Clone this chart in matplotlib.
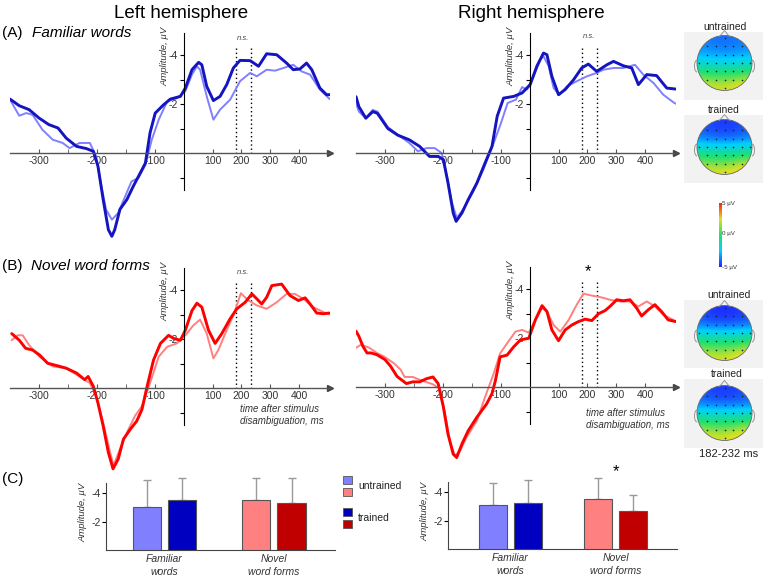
import numpy as np
import matplotlib
matplotlib.use('Agg')
import matplotlib.pyplot as plt
from matplotlib.patches import Rectangle, Circle, Arc
from matplotlib.colors import LinearSegmentedColormap, Normalize
from matplotlib.ticker import FixedLocator
import matplotlib.cm as cm

plt.rcParams['font.family'] = ['Liberation Sans', 'DejaVu Sans']
plt.rcParams['axes.unicode_minus'] = False

W, H = 767, 577

# ---- ERP waveforms (ms, uV) ----
a_left_untr_t = [-350, -334, -322, -311, -294, -276, -259, -247, -230, -212, -201, -192, -184, -174, -163, -151, -140,
                 -128, -116, -105, -86, -57, -23, 6, 29, 46, 57, 80, 103, 126, 161, 195, 230, 253, 287, 316, 345, 379,
                 408, 437, 471, 505]
a_left_untr_v = [-2.18, -1.52, -1.63, -1.56, -0.95, -0.54, -0.41, -0.2, -0.41, -0.41, 0.14, 1.36, 2.31, 2.72, 2.45,
                 1.77, 1.16, 1.02, 0.48, -0.54, -1.36, -2.1, -2.24, -2.52, -3.2, -3.54, -3.4, -2.31, -1.36, -1.77,
                 -2.18, -2.93, -3.27, -3.13, -3.4, -3.36, -3.47, -3.6, -3.33, -3.2, -2.59, -2.2]
a_left_tr_t = [-350, -334, -317, -300, -283, -267, -253, -235, -218, -206, -198, -189, -180, -174, -169, -160, -148,
               -137, -125, -116, -108, -98, -69, -46, -11, 6, 29, 52, 63, 80, 103, 126, 149, 172, 195, 230, 259, 287,
               322, 356, 379, 402, 425, 443, 471, 494, 505]
a_left_tr_v = [-2.2, -1.93, -1.77, -1.43, -1.16, -1.02, -0.61, -0.27, -0.18, -0.07, 0.54, 1.9, 3.13, 3.4, 3.13, 2.3,
               1.9, 1.36, 0.82, 0.41, -0.82, -1.63, -1.97, -2.2, -2.31, -2.65, -3.4, -3.7, -3.6, -2.72, -2.14, -2.31,
               -2.79, -3.47, -3.78, -3.77, -3.54, -4.05, -4.01, -3.67, -3.4, -3.43, -3.67, -3.4, -2.65, -2.38, -2.38]

a_right_untr_t = [-350, -345, -333, -321, -313, -295, -272, -258, -243, -228, -214, -202, -193, -184, -176, -165, -147,
                  -130, -112, -99, -76, -47, -26, -9, 14, 37, 48, 66, 83, 103, 129, 163, 198, 232, 255, 290, 324, 364,
                  393, 428, 462, 497, 505]
a_right_untr_v = [-2.03, -1.69, -1.42, -1.76, -1.69, -1.06, -0.65, -0.41, -0.07, -0.2, -0.2, 0.0, 0.95, 2.04, 2.65,
                  2.31, 1.56, 0.68, -0.41, -1.22, -2.04, -2.18, -2.69, -2.59, -3.13, -3.81, -3.95, -3.54, -2.65,
                  -2.38, -2.72, -2.93, -3.13, -3.27, -3.4, -3.47, -3.47, -3.6, -3.2, -2.86, -2.38, -2.07, -2.01]
a_right_tr_t = [-350, -345, -333, -321, -313, -295, -278, -258, -240, -223, -208, -199, -191, -182, -177, -167, -156,
                -141, -127, -115, -106, -90, -55, -26, 2, 25, 48, 60, 77, 100, 123, 152, 180, 203, 232, 267, 290, 324,
                353, 376, 405, 439, 474, 505]
a_right_tr_v = [-2.3, -1.89, -1.42, -1.69, -1.62, -1.0, -0.73, -0.54, -0.27, 0.14, 0.14, 0.27, 1.22, 2.45, 2.79, 2.45,
                1.9, 1.22, 0.41, -0.27, -1.5, -2.24, -2.31, -2.45, -2.79, -3.54, -4.08, -4.01, -3.13, -2.38, -2.59,
                -2.99, -3.47, -3.63, -3.33, -3.6, -3.74, -3.56, -3.47, -2.79, -3.2, -3.16, -2.65, -2.61]

b_left_untr_t = [-347, -337, -328, -317, -299, -276, -253, -230, -212, -201, -189, -177, -171, -160, -148, -134, -122,
                 -108, -86, -57, -23, 6, 34, 57, 80, 103, 120, 149, 172, 198, 224, 253, 287, 322, 356, 385, 414, 448,
                 483, 505]
b_left_untr_v = [-1.95, -2.15, -2.15, -1.75, -1.28, -0.88, -0.81, -0.47, -0.2, 0.34, 1.41, 2.63, 3.16, 2.49, 1.82,
                 1.14, 0.74, -0.2, -1.28, -1.68, -1.82, -2.15, -2.56, -2.79, -2.22, -1.21, -1.55, -2.36, -2.96, -3.87,
                 -3.57, -3.37, -3.23, -3.5, -3.84, -3.84, -3.64, -3.3, -3.1, -3.0]
b_left_tr_t = [-347, -334, -323, -311, -299, -285, -267, -253, -235, -221, -215, -206, -198, -189, -180, -172, -163,
               -154, -142, -131, -122, -113, -102, -80, -52, -34, -11, 6, 29, 46, 63, 86, 109, 132, 161, 184, 213,
               236, 253, 270, 287, 305, 339, 368, 397, 420, 437, 460, 483, 505]
b_left_tr_v = [-2.22, -1.95, -1.62, -1.55, -1.35, -1.01, -0.9, -0.81, -0.61, -0.34, -0.47, -0.07, 0.61, 1.55, 2.63,
               3.3, 2.9, 2.09, 1.68, 1.35, 0.88, -0.07, -1.14, -1.82, -2.15, -2.02, -1.95, -2.36, -3.16, -3.46, -3.3,
               -2.36, -1.82, -2.22, -2.83, -3.23, -3.5, -3.84, -3.64, -3.43, -3.7, -4.18, -4.24, -3.77, -3.57, -3.68,
               -3.43, -3.06, -3.03, -3.06]

b_right_untr_t = [-350, -341, -327, -314, -302, -285, -273, -266, -252, -237, -217, -205, -196, -188, -179, -170, -159,
                  -141, -127, -112, -101, -78, -49, -26, -3, 20, 43, 60, 83, 106, 135, 163, 186, 215, 244, 278, 313,
                  347, 376, 405, 433, 462, 497, 505]
b_right_untr_v = [-1.6, -1.73, -1.6, -1.39, -1.25, -0.98, -0.71, -0.41, -0.41, -0.27, -0.11, 0.07, 1.1, 2.19, 2.81,
                  2.6, 2.05, 1.37, 0.41, -0.55, -1.37, -1.78, -2.26, -2.33, -2.22, -2.74, -3.22, -3.08, -2.53, -2.26,
                  -2.74, -3.36, -3.81, -3.73, -3.67, -3.56, -3.49, -3.49, -3.29, -3.49, -3.29, -2.95, -2.74, -2.67]
b_right_tr_t = [-350, -345, -338, -331, -324, -314, -300, -290, -279, -263, -252, -240, -228, -217, -208, -199, -191,
                -182, -176, -167, -156, -141, -124, -115, -109, -101, -78, -55, -32, -3, 20, 43, 60, 77, 100, 123,
                146, 169, 192, 215, 238, 261, 278, 301, 324, 347, 370, 387, 410, 433, 456, 479, 505]
b_right_tr_v = [-2.28, -2.07, -1.66, -1.39, -1.39, -1.32, -1.12, -0.84, -0.43, -0.14, -0.21, -0.21, -0.34, -0.41,
                -0.14, 0.82, 1.92, 2.74, 2.88, 2.33, 1.78, 1.23, 0.68, 0.27, -0.27, -1.23, -1.3, -1.64, -1.92, -1.99,
                -2.74, -3.32, -3.08, -2.33, -1.89, -2.33, -2.53, -2.67, -2.77, -2.71, -2.99, -3.12, -3.29, -3.56,
                -3.52, -3.56, -3.22, -2.9, -3.15, -3.36, -3.08, -2.74, -2.67]

erp_ticks = [-300, -200, -100, 100, 200, 300, 400]
erp_tick_labels = ['-300', '-200', '-100', '100', '200', '300', '400']
amp_ticks = [-4, -2]
window = [182, 232]

# ---- mean amplitudes in window ----
categories = ['Familiar\nwords', 'Novel\nword forms']
left_untr = [-3.05, -3.55]
left_tr = [-3.5, -3.3]
left_untr_err = [1.9, 1.5]
left_tr_err = [1.6, 1.75]
right_untr = [-3.1, -3.5]
right_tr = [-3.25, -2.65]
right_untr_err = [1.57, 1.5]
right_tr_err = [1.6, 1.15]

# ---- topographies (uV, electrode rows front to back) ----
topo_a_untr = [[-3.6, -3.8, -3.9, -3.8, -3.6],
               [-3.4, -3.6, -3.7, -3.6, -3.4],
               [-2.9, -3.1, -3.1, -3.1, -2.9],
               [-1.8, -2.0, -2.0, -2.0, -1.7],
               [-0.3, -0.5, -0.5, -0.4, -0.2],
               [1.1, 0.8, 0.8, 1.0, 1.5],
               [2.4, 2.2, 2.2, 2.5, 3.2]]
topo_a_tr = [[-4.2, -4.5, -4.6, -4.5, -4.2],
             [-4.1, -4.4, -4.5, -4.4, -4.1],
             [-3.4, -3.7, -3.7, -3.7, -3.4],
             [-1.9, -2.1, -2.1, -2.1, -1.8],
             [-0.3, -0.5, -0.5, -0.4, -0.1],
             [1.1, 0.8, 0.8, 1.1, 1.6],
             [2.5, 2.3, 2.3, 2.7, 3.4]]
topo_b_untr = [[-4.4, -4.7, -4.8, -4.7, -4.4],
               [-4.3, -4.6, -4.7, -4.6, -4.3],
               [-3.6, -3.9, -3.9, -3.9, -3.6],
               [-2.0, -2.2, -2.2, -2.2, -1.9],
               [-0.3, -0.5, -0.5, -0.4, -0.1],
               [1.0, 0.8, 0.8, 1.0, 1.5],
               [2.4, 2.2, 2.2, 2.6, 3.3]]
topo_b_tr = [[-4.2, -4.5, -4.6, -4.5, -4.2],
             [-4.1, -4.4, -4.5, -4.4, -4.1],
             [-3.4, -3.6, -3.6, -3.6, -3.4],
             [-1.8, -2.0, -2.0, -2.0, -1.7],
             [-0.2, -0.4, -0.4, -0.3, 0.0],
             [1.2, 0.9, 0.9, 1.2, 1.7],
             [2.5, 2.3, 2.3, 2.7, 3.4]]

topo_cmap = LinearSegmentedColormap.from_list(
    'topo', ['#2020ff', '#00d0ff', '#20e070', '#e0e020', '#ff2010'])

C_BLUE_L, C_BLUE_D = '#8080ff', '#1414c0'
C_RED_L, C_RED_D = '#ff8080', '#ff0000'
C_BAR = ['#8080ff', '#0000c0', '#ff8080', '#c00000']


def rect(x0, y0, x1, y1):
    return [x0 / W, 1 - y1 / H, (x1 - x0) / W, (y1 - y0) / H]


def fwd(x):
    x = np.asarray(x, float)
    return np.where(x >= -100, x, 2 * x + 100)


def inv(p):
    p = np.asarray(p, float)
    return np.where(p >= -100, p, (p - 100) / 2)


def erp_panel(fig, x0, y0, tu, vu, tt, vt, cu, ct):
    # y0 = pixel row of the zero line
    ax = fig.add_axes(rect(x0, y0 - 133, x0 + 320, y0 + 92))
    ax.set_xscale('function', functions=(fwd, inv))
    ax.set_xlim(-350, 506)
    ax.set_ylim(92 / 24.5, -133 / 24.5)
    ax.patch.set_visible(False)
    for s in ['top', 'right']:
        ax.spines[s].set_visible(False)
    ax.spines['left'].set_position(('data', 0))
    ax.spines['bottom'].set_position(('data', 0))
    ax.spines['left'].set_bounds(-4.9, 1.5)
    ax.spines['left'].set_linewidth(0.8)
    ax.spines['bottom'].set_color('#555555')
    ax.spines['bottom'].set_linewidth(1.0)
    ax.plot([506], [0], marker='>', ms=4, color='#444444', clip_on=False)

    ax.xaxis.set_major_locator(FixedLocator(erp_ticks))
    ax.set_xticklabels(erp_tick_labels)
    ax.xaxis.set_minor_locator(FixedLocator([-250, -150]))
    ax.tick_params(axis='x', which='both', direction='in', length=3, color='#555555',
                   labelsize=7.5, labelcolor='#333333', pad=2)
    ax.set_yticks(amp_ticks)
    ax.set_yticklabels([str(v) for v in amp_ticks])
    ax.yaxis.set_minor_locator(FixedLocator([-3, -1, 1]))
    ax.tick_params(axis='y', which='both', direction='out', length=3, width=0.8,
                   labelsize=7.5, labelcolor='#333333', pad=1)

    ax.vlines(window, -4.3, 0, colors='k', linestyles=(0, (1, 2)), lw=1)
    ax.plot(tu, vu, color=cu, lw=1.4, solid_capstyle='round', solid_joinstyle='round')
    ax.plot(tt, vt, color=ct, lw=2.1, solid_capstyle='round', solid_joinstyle='round')
    return ax


def bar_panel(fig, x0, x1, y0, xlim, ppu, untr, tr, untr_err, tr_err):
    ax = fig.add_axes(rect(x0, y0 - 76, x1, y0))
    ax.set_xlim(*xlim)
    ax.set_ylim(0, -76 / 14.2)
    ax.patch.set_visible(False)
    for s in ['top', 'right']:
        ax.spines[s].set_visible(False)
    ax.spines['left'].set_bounds(0, -4.75)
    ax.spines['left'].set_color('#444444')
    ax.spines['bottom'].set_color('#444444')
    pos = np.arange(len(categories))
    off = 17.5 / ppu
    wid = 28 / ppu
    ax.bar(pos - off, untr, wid, color=[C_BAR[0], C_BAR[2]], edgecolor='#555555', lw=0.8, zorder=3)
    ax.bar(pos + off, tr, wid, color=[C_BAR[1], C_BAR[3]], edgecolor='#555555', lw=0.8, zorder=3)
    ax.errorbar(pos - off, untr, yerr=[untr_err, [0] * len(untr)], fmt='none', ecolor='#999999',
                elinewidth=1, capsize=3, zorder=2)
    ax.errorbar(pos + off, tr, yerr=[tr_err, [0] * len(tr)], fmt='none', ecolor='#999999',
                elinewidth=1, capsize=3, zorder=2)
    ax.set_xticks(pos)
    ax.set_xticklabels(categories, fontstyle='italic', fontsize=7.5, color='#333333', linespacing=1.3)
    ax.tick_params(axis='x', length=0, pad=3)
    ax.set_yticks(amp_ticks)
    ax.set_yticklabels([str(v) for v in amp_ticks])
    ax.tick_params(axis='y', direction='out', length=3, labelsize=7.5, labelcolor='#333333', pad=1)
    return ax


def topo(ov, cx, cy, grid, box_top, box_bot):
    r = 27.5
    ov.add_patch(Rectangle((684, box_top), 79, box_bot - box_top, facecolor='#f2f2f2',
                           edgecolor='none', zorder=1))
    im = ov.imshow(np.array(grid), cmap=topo_cmap, vmin=-5, vmax=5, interpolation='bicubic',
                   extent=(cx - r, cx + r, cy + r, cy - r), zorder=2)
    clip = Circle((cx, cy), r, transform=ov.transData)
    im.set_clip_path(clip)
    ov.add_patch(Circle((cx, cy), r, fill=False, edgecolor='#666666', lw=0.6, zorder=3))
    ov.plot([cx - 5, cx, cx + 5], [cy - r + 1, cy - r - 5, cy - r + 1], color='#888888', lw=0.6, zorder=3)
    ov.add_patch(Arc((cx - r, cy + 3), 5, 12, theta1=90, theta2=270, color='#888888', lw=0.6, zorder=3))
    ov.add_patch(Arc((cx + r, cy + 3), 5, 12, theta1=-90, theta2=90, color='#888888', lw=0.6, zorder=3))
    gx, gy = np.meshgrid(np.arange(-3, 4) * 8.6, np.arange(-3, 4) * 8.4)
    m = np.hypot(gx, gy) < r - 1
    ov.scatter(cx + gx[m], cy + gy[m], s=1.4, color='#222222', zorder=4, linewidths=0)


fig = plt.figure(figsize=(W / 100, H / 100), dpi=100)

erp_panel(fig, 10, 153, a_left_untr_t, a_left_untr_v, a_left_tr_t, a_left_tr_v, C_BLUE_L, C_BLUE_D)
erp_panel(fig, 356, 153, a_right_untr_t, a_right_untr_v, a_right_tr_t, a_right_tr_v, C_BLUE_L, C_BLUE_D)
erp_panel(fig, 10, 388, b_left_untr_t, b_left_untr_v, b_left_tr_t, b_left_tr_v, C_RED_L, C_RED_D)
erp_panel(fig, 356, 387, b_right_untr_t, b_right_untr_v, b_right_tr_t, b_right_tr_v, C_RED_L, C_RED_D)

bar_panel(fig, 106, 335, 550, (-0.534, 1.557), 109.5, left_untr, left_tr, left_untr_err, left_tr_err)
bar_panel(fig, 448, 677, 549, (-0.595, 1.586), 105, right_untr, right_tr, right_untr_err, right_tr_err)

# overlay in pixel coordinates for labels, legend and maps
ov = fig.add_axes([0, 0, 1, 1])
ov.set_zorder(5)
ov.axis('off')

topo(ov, 724.5, 63, topo_a_untr, 32, 100)
topo(ov, 724.5, 147, topo_a_tr, 115, 183)
topo(ov, 724.5, 333, topo_b_untr, 300, 368)
topo(ov, 724.5, 413, topo_b_tr, 379, 448)
ov.set_xlim(0, W)
ov.set_ylim(H, 0)
ov.set_aspect('auto')

cax = fig.add_axes(rect(719, 203, 722, 267))
cb = fig.colorbar(cm.ScalarMappable(norm=Normalize(-5, 5), cmap=topo_cmap), cax=cax)
cb.outline.set_visible(False)
cb.set_ticks([])
for y, s in [(204, '5 µV'), (234, '0 µV'), (268, '-5 µV')]:
    ov.text(722, y, s, fontsize=4.5, color='#333333', va='center', ha='left')

ov.text(181, 13, 'Left hemisphere', fontsize=13.5, ha='center', va='center')
ov.text(531, 13, 'Right hemisphere', fontsize=13.5, ha='center', va='center')
ov.text(2, 33, '(A)', fontsize=11, va='center')
ov.text(32, 33, 'Familiar words', fontsize=11, fontstyle='italic', va='center')
ov.text(2, 266, '(B)', fontsize=11, va='center')
ov.text(31, 266, 'Novel word forms', fontsize=11, fontstyle='italic', va='center')
ov.text(2, 479, '(C)', fontsize=11, va='center')

for xa, ya in [(183.6, 153), (529.6, 153), (183.6, 388), (529.6, 387)]:
    ov.text(xa - 19, ya - 97, 'Amplitude, µV', rotation=90, fontsize=6.8, fontstyle='italic',
            color='#333333', ha='center', va='center')
for xa, ya in [(106, 550), (448, 549)]:
    ov.text(xa - 23, ya - 38, 'Amplitude, µV', rotation=90, fontsize=6.8, fontstyle='italic',
            color='#333333', ha='center', va='center')

for xs, ys in [(243, 38), (589, 37), (243, 273)]:
    ov.text(xs, ys, 'n.s.', fontsize=5.5, fontstyle='italic', color='#444444', ha='center', va='center')
ov.text(588, 272, '*', fontsize=12, ha='center', va='center')
ov.text(616, 472, '*', fontsize=12, ha='center', va='center')

for xt, yt in [(240, 415), (586, 419)]:
    ov.text(xt, yt, 'time after stimulus\ndisambiguation, ms', fontsize=7, fontstyle='italic',
            color='#333333', ha='left', va='center', linespacing=1.15)

ov.text(725, 27, 'untrained', fontsize=7.5, ha='center', va='center', color='#222222')
ov.text(724, 110, 'trained', fontsize=7.5, ha='center', va='center', color='#222222')
ov.text(729, 295, 'untrained', fontsize=7.5, ha='center', va='center', color='#222222')
ov.text(727, 374, 'trained', fontsize=7.5, ha='center', va='center', color='#222222')
ov.text(729, 454, '182-232 ms', fontsize=8, ha='center', va='center', color='#222222')

# legend
for (yy, c) in [(476, C_BAR[0]), (488, C_BAR[2]), (508, C_BAR[1]), (520, C_BAR[3])]:
    ov.add_patch(Rectangle((343, yy), 9, 8, facecolor=c, edgecolor='#555555', lw=0.6, zorder=3))
ov.text(358, 486, 'untrained', fontsize=7.5, va='center', color='#222222')
ov.text(358, 518, 'trained', fontsize=7.5, va='center', color='#222222')

fig.savefig('out.png', dpi=100)
